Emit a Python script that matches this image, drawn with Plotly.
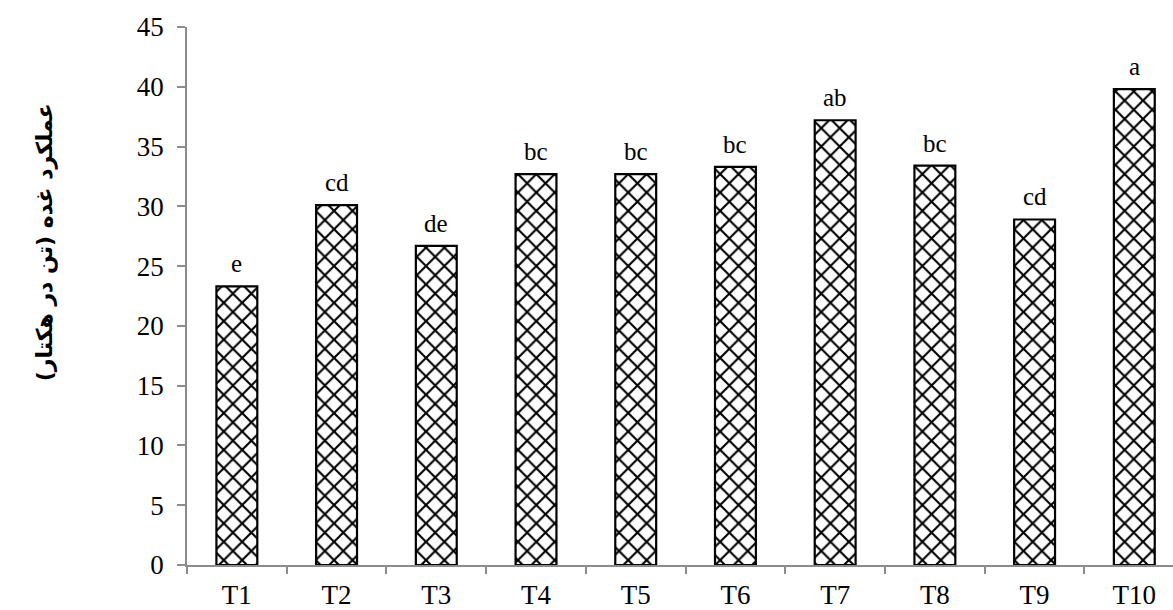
import plotly.graph_objects as go

# Treatments, tuber yield (t/ha) and mean-separation letters
treatments = ["T1", "T2", "T3", "T4", "T5", "T6", "T7", "T8", "T9", "T10"]
yield_t_ha = [23.3, 30.1, 26.7, 32.7, 32.7, 33.3, 37.2, 33.4, 28.9, 39.8]
letters = ["e", "cd", "de", "bc", "bc", "bc", "ab", "bc", "cd", "a"]
y_ticks = [0, 5, 10, 15, 20, 25, 30, 35, 40, 45]

y_title = "عملکرد غده (تن در هکتار)"

serif = "Liberation Serif, Times New Roman, serif"
axis_grey = "#8c8c8c"

fig = go.Figure()
fig.add_trace(go.Bar(
    x=treatments,
    y=yield_t_ha,
    width=0.41,
    marker=dict(
        color="white",
        line=dict(color="black", width=2.2),
        pattern=dict(shape="x", fgcolor="black", bgcolor="white",
                     size=13, solidity=0.3, fillmode="replace"),
    ),
    showlegend=False,
    hoverinfo="x+y",
))

# significance letters above each bar
for t, v, s in zip(treatments, yield_t_ha, letters):
    fig.add_annotation(
        x=t, y=v, text=s, showarrow=False,
        yanchor="bottom", yshift=7,
        font=dict(family=serif, size=25, color="black"),
    )

# rotated y-axis title
fig.add_annotation(
    xref="paper", yref="paper", x=-0.144, y=0.6,
    xanchor="center", yanchor="middle",
    text="<b>" + y_title + "</b>", textangle=-90, showarrow=False,
    font=dict(family="DejaVu Sans", size=22, color="black"),
)

fig.update_layout(
    width=1173, height=610,
    margin=dict(l=187, r=0, t=27, b=42),
    paper_bgcolor="white", plot_bgcolor="white",
)
fig.update_xaxes(
    type="category",
    range=[-0.5, 9.388],
    showline=True, linecolor=axis_grey, linewidth=1.5,
    ticks="outside", tickson="boundaries", ticklen=7, tickcolor=axis_grey, tickwidth=1.5,
    showgrid=False, zeroline=False,
    tickfont=dict(family=serif, size=27, color="black"),
    ticklabelstandoff=5,
)
fig.update_yaxes(
    range=[0, 45],
    tickvals=y_ticks,
    showline=True, linecolor=axis_grey, linewidth=1.5,
    ticks="outside", ticklen=8, tickcolor=axis_grey, tickwidth=1.5,
    showgrid=False, zeroline=False,
    tickfont=dict(family=serif, size=27, color="black"),
    ticklabelstandoff=8,
)

fig.write_html("out.html")
